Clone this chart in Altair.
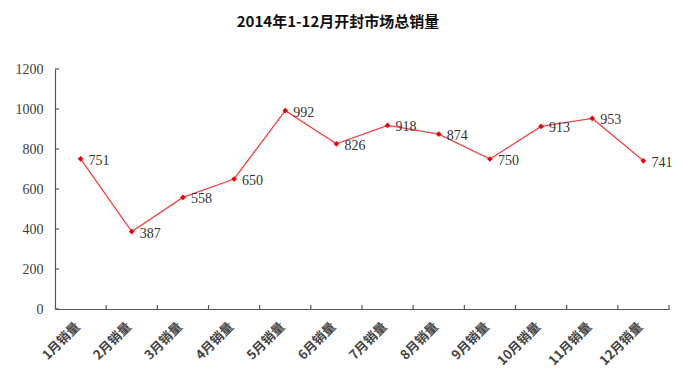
import altair as alt
import pandas as pd

months = ["1月销量", "2月销量", "3月销量", "4月销量", "5月销量", "6月销量",
          "7月销量", "8月销量", "9月销量", "10月销量", "11月销量", "12月销量"]
sales = [751, 387, 558, 650, 992, 826, 918, 874, 750, 913, 953, 741]
y_ticks = [0, 200, 400, 600, 800, 1000, 1200]

df = pd.DataFrame({"month": months, "sales": sales})
ticks_df = pd.DataFrame({"v": y_ticks})

W, H = 614, 240
band = W / len(months)

x_axis = alt.Axis(labelAngle=-45, labelFont="Noto Sans CJK SC",
                  labelFontWeight="bold", labelFontSize=13,
                  labelColor="#444444", ticks=False, domainColor="#555555",
                  domainWidth=1.2, labelPadding=11, labelOffset=-7,
                  labelOverlap=False)
y_axis = alt.Axis(values=y_ticks, grid=False, ticks=False, format="d",
                  labelFont="Liberation Serif", labelFontSize=14,
                  labelColor="#404040", domainColor="#555555",
                  domainWidth=1.2, labelPadding=12, labelOverlap=False)
x_scale = alt.Scale(paddingInner=0, paddingOuter=0)
y_scale = alt.Scale(domain=[0, 1200])

x_enc = alt.X("month:N", sort=months, title=None, scale=x_scale, axis=x_axis)
y_enc = alt.Y("sales:Q", title=None, scale=y_scale, axis=y_axis)

base = alt.Chart(df)

line = base.mark_line(color="#EE4444", strokeWidth=1.3).encode(x=x_enc, y=y_enc)
pts = base.mark_point(shape="diamond", filled=True, color="#E8000B", size=32,
                      opacity=1).encode(x=x_enc, y=y_enc)
labels = base.mark_text(align="left", baseline="middle", dx=8, dy=2,
                        font="Liberation Serif", fontSize=14,
                        color="#333333").encode(x=x_enc, y=y_enc, text="sales:Q")

yticks = alt.Chart(ticks_df).mark_rule(color="#555555", strokeWidth=1.2).encode(
    y=alt.Y("v:Q", title=None, scale=y_scale, axis=y_axis),
    x=alt.value(0), x2=alt.value(4))
xticks = base.mark_rule(color="#555555", strokeWidth=1.2, xOffset=band / 2).encode(
    x=x_enc, y=alt.value(H), y2=alt.value(H - 4))

chart = alt.layer(line, yticks, xticks, pts, labels).properties(
    width=W, height=H,
    autosize=alt.AutoSizeParams(type="none"),
    padding={"left": 47, "top": 61, "right": 6, "bottom": 70},
    title=alt.TitleParams("2014年1-12月开封市场总销量", font="Noto Sans CJK SC",
                          fontSize=15, fontWeight="bold", color="#111111",
                          anchor="middle", dx=-24, offset=32),
).configure_view(stroke=None)

chart.save("out.html", embed_options={"renderer": "svg", "actions": False})
